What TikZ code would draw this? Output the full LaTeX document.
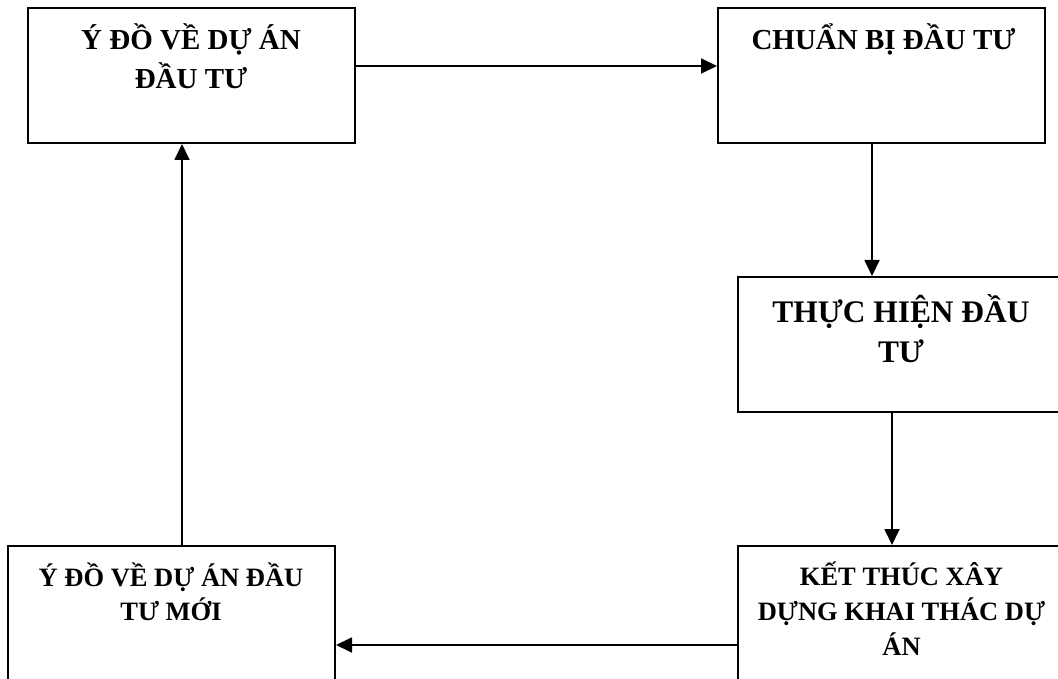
\documentclass[tikz,border=0pt]{standalone}
\usepackage{fontspec}
\setmainfont{Liberation Serif}
\usetikzlibrary{arrows.meta}
\begin{document}
\begin{tikzpicture}[x=1pt,y=-1pt,
  box/.style={draw, line width=2pt, inner sep=0pt, minimum width=327pt, minimum height=135pt},
  lbl/.style={anchor=base, inner sep=0pt, font=\fontsize{29}{34}\selectfont\bfseries},
  smalllbl/.style={anchor=base, inner sep=0pt, font=\fontsize{26.5}{32}\selectfont\bfseries},
  biglbl/.style={anchor=base, inner sep=0pt, font=\fontsize{31.4}{37}\selectfont\bfseries},
  arr/.style={line width=1.8pt, -{Triangle[length=16pt,width=15pt]}}]
\useasboundingbox (0,0) rectangle (1058,679);
\clip (0,0) rectangle (1058,679);
% boxes
\node[box] (b1) at (191,75.5) {};
\node[box] (b2) at (881.5,75.5) {};
\node[box] (b3) at (901.5,344.5) {};
\node[box] (b4) at (901.5,613.5) {};
\node[box] (b5) at (171.5,613.5) {};
% texts
\node[lbl] (t1a) at (191,49.5) {Ý ĐỒ VỀ DỰ ÁN};
\node[lbl] (t1b) at (191,89) {ĐẦU TƯ};
\node[lbl] (t2a) at (883.5,50) {CHUẨN BỊ ĐẦU TƯ};
\node[biglbl] (t3a) at (901,323) {THỰC HIỆN ĐẦU};
\node[biglbl] (t3b) at (901,362) {TƯ};
\node[smalllbl] (t4a) at (901.5,585) {KẾT THÚC XÂY};
\node[smalllbl] (t4b) at (901.5,620) {DỰNG KHAI THÁC DỰ};
\node[smalllbl] (t4c) at (901.5,655) {ÁN};
\node[smalllbl] (t5a) at (171,586) {Ý ĐỒ VỀ DỰ ÁN ĐẦU};
\node[smalllbl] (t5b) at (171,620) {TƯ MỚI};
% connectors
\coordinate (s1) at ([yshift=9.5pt]b1.east);
\draw[arr] (s1) -- (s1 -| b2.west);
\coordinate (s2) at ([xshift=-9.5pt]b2.south);
\draw[arr] (s2) -- (s2 |- b3.north);
\coordinate (s3) at ([xshift=-9.5pt]b3.south);
\draw[arr] (s3) -- (s3 |- b4.north);
\coordinate (s4) at ([yshift=-31.5pt]b4.west);
\draw[arr] (s4) -- (s4 -| b5.east);
\coordinate (s5) at ([xshift=10.5pt]b5.north);
\draw[arr] (s5) -- (s5 |- b1.south);
\end{tikzpicture}
\end{document}
